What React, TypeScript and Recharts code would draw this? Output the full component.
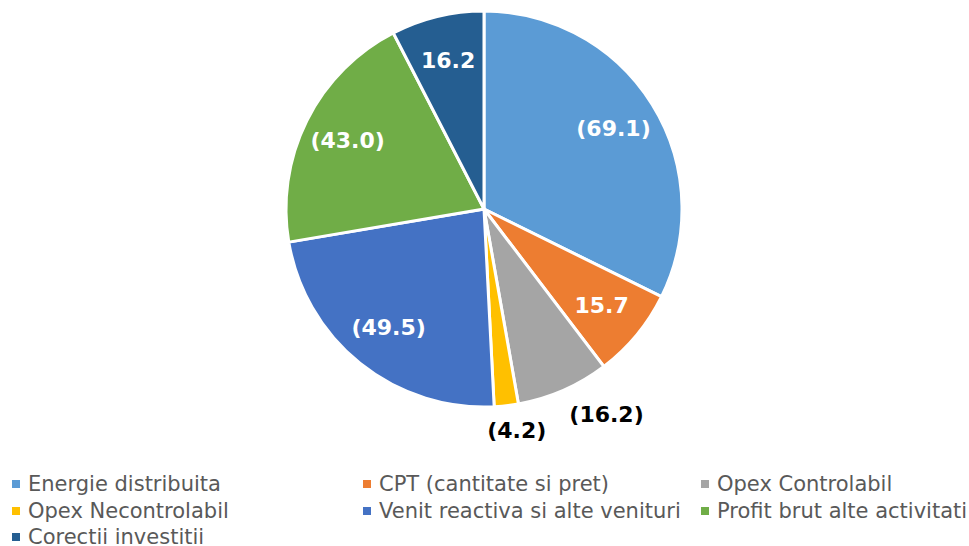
import { PieChart, Pie, Cell } from 'recharts'

const names = [
  'Energie distribuita',
  'CPT (cantitate si pret)',
  'Opex Controlabil',
  'Opex Necontrolabil',
  'Venit reactiva si alte venituri',
  'Profit brut alte activitati',
  'Corectii investitii',
]
const values = [69.1, 15.7, 16.2, 4.2, 49.5, 43.0, 16.2]
const labels = ['(69.1)', '15.7', '(16.2)', '(4.2)', '(49.5)', '(43.0)', '16.2']
const outside = [false, false, true, true, false, false, false]
const colors = ['#5B9BD5', '#ED7D31', '#A5A5A5', '#FFC000', '#4472C4', '#70AD47', '#255E91']

const data = names.map((name, i) => ({ name, value: values[i] }))

const RAD = Math.PI / 180

function renderLabel(props: any) {
  const { cx, cy, midAngle, outerRadius, index } = props
  const text = labels[index]
  let x: number
  let y: number
  if (outside[index]) {
    // put the label box just outside the rim, like Excel's best fit
    const s = Math.cos(-midAngle * RAD)
    const c = Math.sin(-midAngle * RAD)
    const w = text.length * 12.5
    const h = 22
    const r = outerRadius + 14
    x = cx + r * s + (w / 2) * Math.min(1, 2.5 * Math.abs(s)) * Math.sign(s)
    y = cy + r * c + (h / 2) * Math.sign(c)
  } else {
    const r = outerRadius * 0.77
    x = cx + r * Math.cos(-midAngle * RAD)
    y = cy + r * Math.sin(-midAngle * RAD)
  }
  return (
    <text
      x={x}
      y={y}
      fill={outside[index] ? '#000000' : '#ffffff'}
      textAnchor="middle"
      dominantBaseline="central"
      fontFamily="DejaVu Sans, Verdana, sans-serif"
      fontWeight="bold"
      fontSize={22}
    >
      {text}
    </text>
  )
}

const legendCols = [12, 363, 701]

export default function App() {
  return (
    <div style={{ position: 'absolute', left: 0, top: 0, width: 969, height: 546, background: '#fff', overflow: 'hidden' }}>
      <PieChart width={969} height={546} margin={{ top: 0, right: 0, bottom: 0, left: 0 }}>
        <Pie
          data={data}
          dataKey="value"
          cx={484}
          cy={209}
          outerRadius={198}
          startAngle={90}
          endAngle={-270}
          stroke="#ffffff"
          strokeWidth={3}
          label={renderLabel}
          labelLine={false}
          isAnimationActive={false}
        >
          {data.map((_, i) => <Cell key={i} fill={colors[i]} />)}
        </Pie>
      </PieChart>
      {names.map((n, i) => (
        <div
          key={n}
          style={{
            position: 'absolute',
            left: legendCols[i % 3],
            top: 471 + Math.floor(i / 3) * 26.5,
            display: 'flex',
            alignItems: 'center',
            fontFamily: 'DejaVu Sans, Tahoma, sans-serif',
            fontSize: 21,
            color: '#595959',
            whiteSpace: 'nowrap',
            lineHeight: '26px',
          }}
        >
          <span style={{ display: 'inline-block', width: 8, height: 8, background: colors[i], marginRight: 8 }} />
          {n}
        </div>
      ))}
    </div>
  )
}
